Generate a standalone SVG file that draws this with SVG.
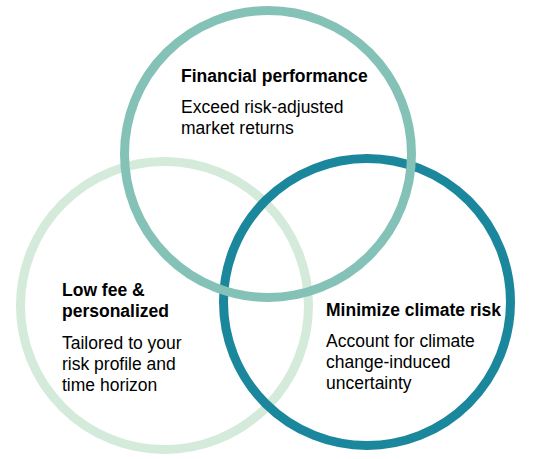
<svg xmlns="http://www.w3.org/2000/svg" width="536" height="459" viewBox="0 0 536 459">
<style>
.ring{fill:none;stroke-width:9}
.t{font-family:"Liberation Sans",Arial,sans-serif;font-size:17.5px;fill:#000}
.b{font-weight:bold}
</style>
<rect width="536" height="459" fill="#fff"/>
<g id="personalized">
<circle class="ring" cx="164.5" cy="305.5" r="144" stroke="#d4eadb"/>
<text class="t b" x="62" y="296">Low fee &amp;</text>
<text class="t b" x="62" y="317">personalized</text>
<text class="t" x="62" y="349">Tailored to your</text>
<text class="t" x="62" y="370">risk profile and</text>
<text class="t" x="62" y="391">time horizon</text>
</g>
<g id="climate">
<circle class="ring" cx="367" cy="302" r="143.5" stroke="#1b879c"/>
<text class="t b" x="326" y="316">Minimize climate risk</text>
<text class="t" x="326" y="347">Account for climate</text>
<text class="t" x="326" y="368">change-induced</text>
<text class="t" x="326" y="389">uncertainty</text>
</g>
<g id="financial">
<circle class="ring" cx="268" cy="154" r="143.5" stroke="#84c1b6"/>
<text class="t b" x="181" y="82">Financial performance</text>
<text class="t" x="181" y="113">Exceed risk-adjusted</text>
<text class="t" x="181" y="134">market returns</text>
</g>
<g id="connectors"/>
</svg>
